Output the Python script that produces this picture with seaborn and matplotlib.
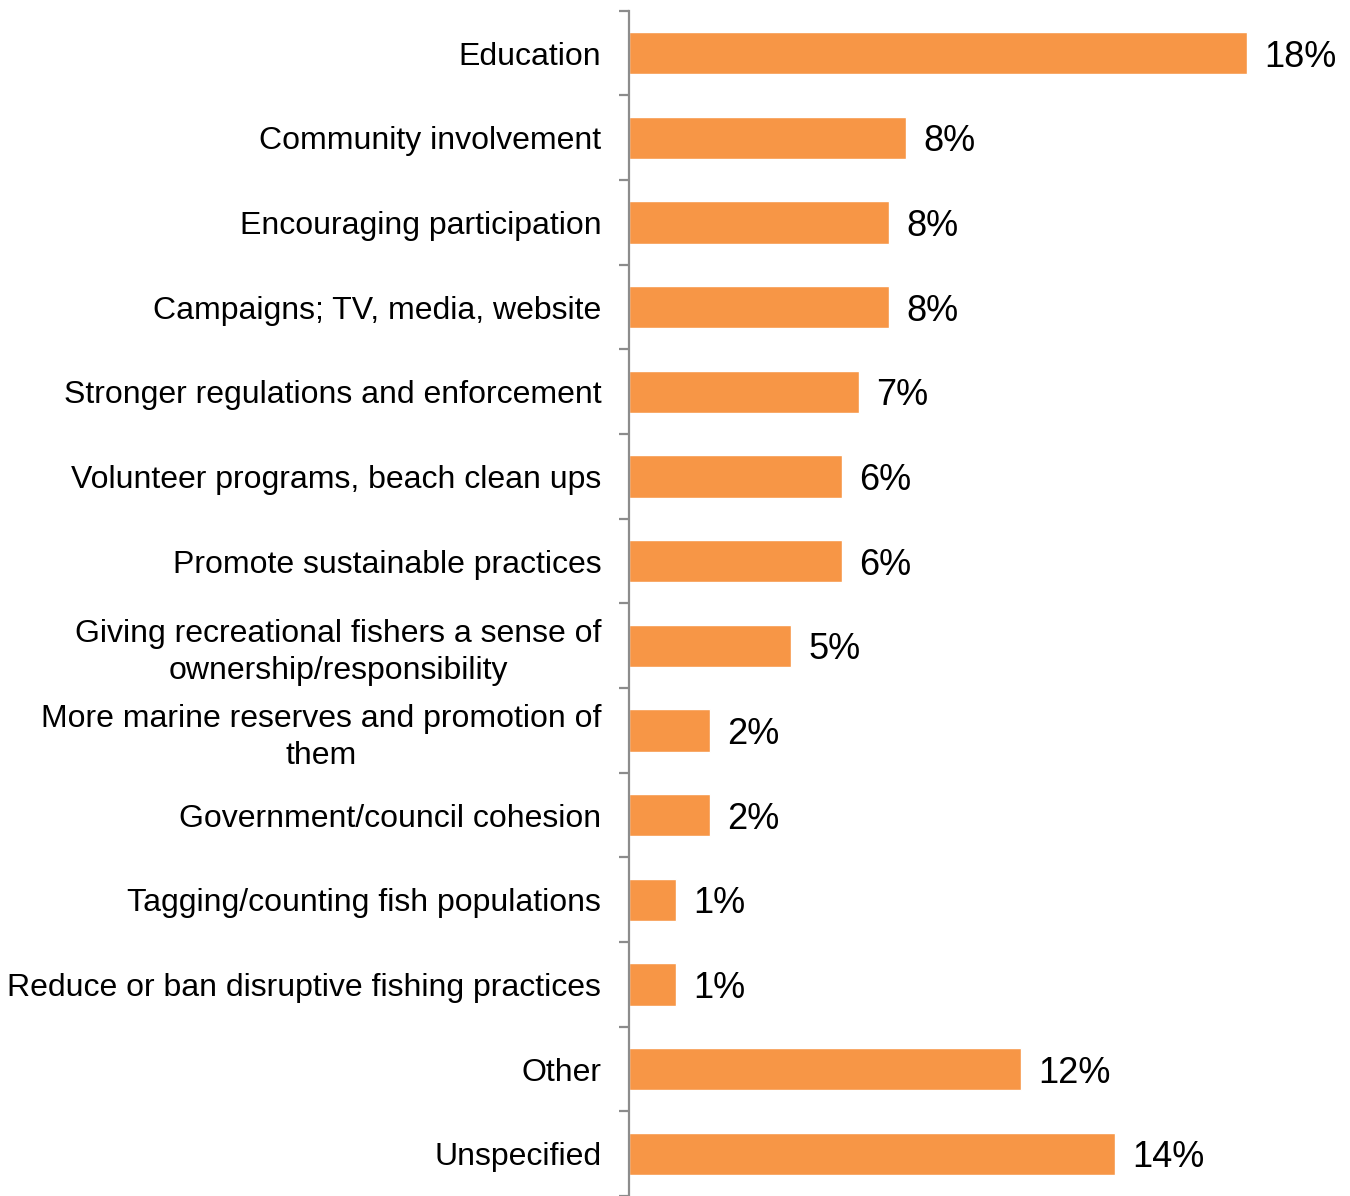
import numpy as np
import pandas as pd
import matplotlib
matplotlib.use("Agg")
import matplotlib.pyplot as plt
import seaborn as sns

categories = [
    "Education",
    "Community involvement",
    "Encouraging participation",
    "Campaigns; TV, media, website",
    "Stronger regulations and enforcement",
    "Volunteer programs, beach clean ups",
    "Promote sustainable practices",
    "Giving recreational fishers a sense of\nownership/responsibility",
    "More marine reserves and promotion of\nthem",
    "Government/council cohesion",
    "Tagging/counting fish populations",
    "Reduce or ban disruptive fishing practices",
    "Other",
    "Unspecified",
]
shares = [18.3, 8.2, 7.7, 7.7, 6.8, 6.3, 6.3, 4.8, 2.4, 2.4, 1.4, 1.4, 11.6, 14.4]

df = pd.DataFrame({"category": categories, "share": shares})

sns.set_theme(style="white")
plt.rcParams["font.family"] = ["Liberation Sans", "DejaVu Sans"]

W, H = 1350, 1196
fig = plt.figure(figsize=(W / 100, H / 100), dpi=100)
left_px, top_px = 629, 10.7
ax = fig.add_axes([left_px / W, 0, (W - left_px) / W, 1 - top_px / H])

sns.barplot(data=df, x="share", y="category", orient="h", color="#F79646",
            saturation=1, width=0.5, ax=ax)

band_px = 85.0
n = len(categories)
ax.set_ylim(-0.5 + (H - top_px) / band_px, -0.5)
ax.set_xlim(0, (W - left_px) / 33.75)

texts = ax.bar_label(ax.containers[0], labels=[f"{v:.0f}%" for v in shares],
                     padding=12.5, fontsize=26, color="black")
for t in texts:
    t.set_verticalalignment("center_baseline")

ax.set_xlabel("")
ax.set_ylabel("")
ax.set_xticks([])
ax.tick_params(axis="y", which="major", length=0, pad=20, labelsize=23,
               labelcolor="black")
for lab in ax.get_yticklabels():
    lab.set_multialignment("center")
    lab.set_linespacing(1.3)
ax.set_yticks(np.arange(-0.5, n + 0.5, 1), minor=True)
ax.tick_params(axis="y", which="minor", length=7.2, width=1.6, color="#8c8c8c",
               left=True)

for side in ["top", "right", "bottom"]:
    ax.spines[side].set_visible(False)
ax.spines["left"].set_color("#8c8c8c")
ax.spines["left"].set_linewidth(1.6)

fig.savefig("out.png", dpi=100)
